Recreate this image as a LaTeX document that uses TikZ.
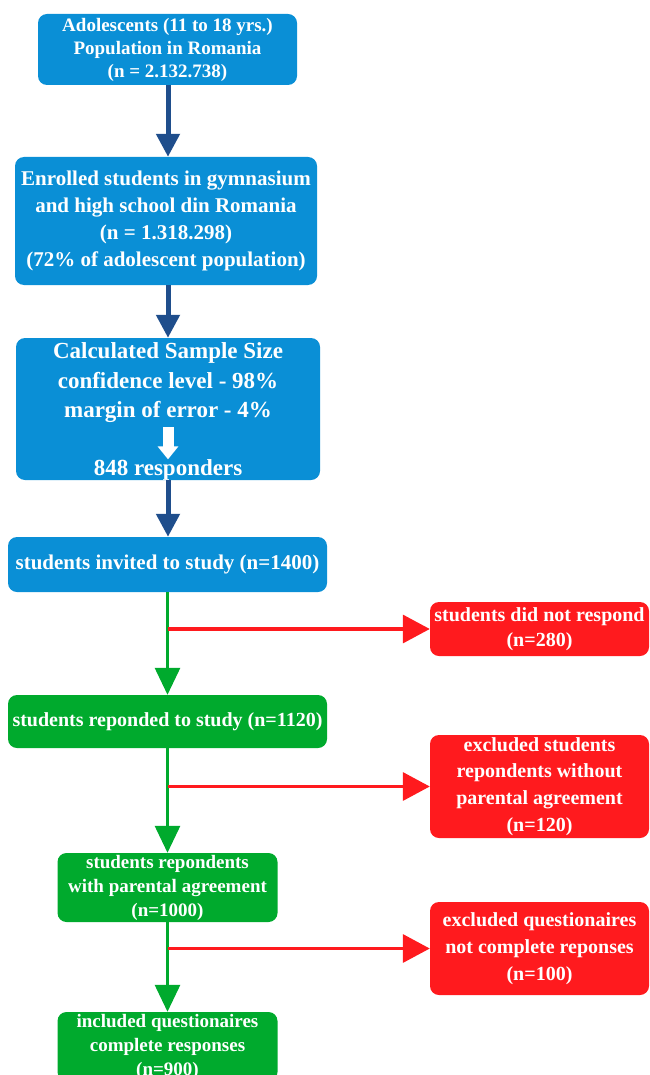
\documentclass[tikz,border=0pt]{standalone}
\usepackage{fontspec}
\setmainfont{Liberation Serif}
\usetikzlibrary{arrows.meta}
\definecolor{boxblue}{HTML}{0A8FD6}
\definecolor{arrblue}{HTML}{1F4E8C}
\definecolor{boxgreen}{HTML}{00AA2D}
\definecolor{boxred}{HTML}{FF1A1E}
\begin{document}
\begin{tikzpicture}[x=1pt,y=-1pt,
  box/.style={rounded corners=9pt, inner sep=0pt, text=white, align=center},
  bluebox/.style={box, fill=boxblue},
  greenbox/.style={box, fill=boxgreen},
  redbox/.style={box, fill=boxred},
  txt/.style={inner sep=0pt, text=white, align=center},
  bluearrow/.style={draw=arrblue, line width=5pt, -{Triangle[length=23pt,width=23pt]}},
  greenarrow/.style={draw=boxgreen, line width=3pt, -{Triangle[length=27pt,width=25pt]}},
  redarrow/.style={draw=boxred, line width=3.5pt, -{Triangle[length=27pt,width=28pt]}},
  whitearrow/.style={draw=white, line width=11pt, -{Triangle[length=13pt,width=20pt]}}
]
\useasboundingbox (0,0) rectangle (649,1075);
\clip (0,0) rectangle (649,1075);

% blue boxes
\node[bluebox, minimum width=259pt, minimum height=71pt, font=\fontsize{19}{23}\selectfont\bfseries] (b1) at (167.5,49.5)
  {Adolescents (11 to 18 yrs.)\\Population in Romania\\(n = 2.132.738)};
\node[bluebox, minimum width=302pt, minimum height=128pt, font=\fontsize{21}{27}\selectfont\bfseries] (b2) at (166,221)
  {Enrolled students in gymnasium\\and high school din Romania\\(n = 1.318.298)\\(72\% of adolescent population)};
\node[bluebox, minimum width=304pt, minimum height=142pt] (b3) at (168,409) {};
\node[txt, font=\fontsize{23}{29.5}\selectfont\bfseries] (b3t) at (168,383)
  {Calculated Sample Size\\confidence level - 98\%\\margin of error - 4\%};
\node[txt, font=\fontsize{23}{29.5}\selectfont\bfseries] (b3n) at (168,470) {848 responders};
\node[bluebox, minimum width=319pt, minimum height=55pt, font=\fontsize{21}{25}\selectfont\bfseries] (b4) at (167.5,564.5)
  {students invited to study (n=1400)};

% green boxes
\node[greenbox, minimum width=319pt, minimum height=53pt, font=\fontsize{20}{25}\selectfont\bfseries] (g1) at (167.5,721.5)
  {students reponded to study (n=1120)};
\node[greenbox, minimum width=220pt, minimum height=69pt, font=\fontsize{19}{24}\selectfont\bfseries] (g2) at (167.5,887.5)
  {students repondents\\with parental agreement\\(n=1000)};
\node[greenbox, minimum width=220pt, minimum height=69pt, font=\fontsize{19}{24}\selectfont\bfseries] (g3) at (167.5,1046.5)
  {included questionaires\\complete responses\\(n=900)};

% red boxes
\node[redbox, minimum width=219pt, minimum height=54pt, font=\fontsize{20}{25}\selectfont\bfseries] (r1) at (539.5,629)
  {students did not respond\\(n=280)};
\node[redbox, minimum width=219pt, minimum height=103pt, font=\fontsize{20}{26.7}\selectfont\bfseries] (r2) at (539.5,786.5)
  {excluded students\\repondents without\\parental agreement\\(n=120)};
\node[redbox, minimum width=219pt, minimum height=93pt, font=\fontsize{20}{27}\selectfont\bfseries] (r3) at (539.5,948.5)
  {excluded questionaires\\not complete reponses\\(n=100)};

% connectors
\draw[bluearrow] (b3.north |- b1.south) -- (b3.north |- b2.north);
\draw[bluearrow] (b3.north |- b2.south) -- (b3.north);
\draw[bluearrow] (b3.south) -- (b3.south |- b4.north);
\draw[whitearrow, shorten <=4pt] (b3t.south) -- (b3n.north);

\draw[greenarrow] (b4.south) -- (g1.north);
\draw[greenarrow] (g1.south) -- (g2.north);
\draw[greenarrow] (g2.south) -- (g3.north);

\draw[redarrow] (b4.south |- r1.west) -- (r1.west);
\draw[redarrow] (g1.south |- r2.west) -- (r2.west);
\draw[redarrow] (g2.south |- r3.west) -- (r3.west);
\end{tikzpicture}
\end{document}
